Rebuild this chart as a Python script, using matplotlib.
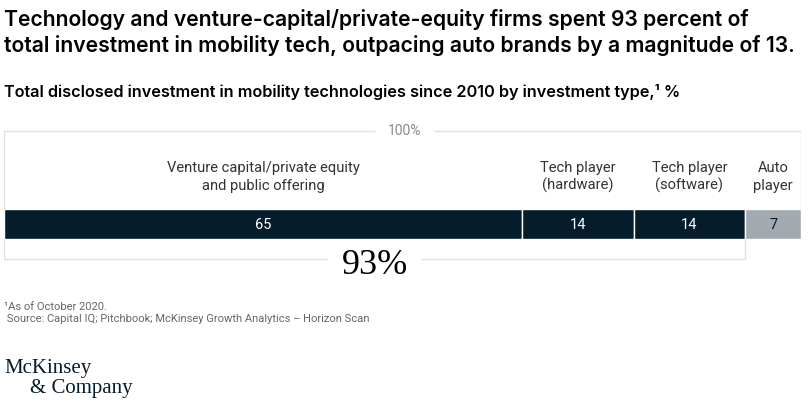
"""
Stacked 100% bar of mobility-tech investment by investment type.
"""

import matplotlib.pyplot as plt

CATEGORIES = [
    "Venture capital/private equity\nand public offering",
    "Tech player\n(hardware)",
    "Tech player\n(software)",
    "Auto\nplayer",
]
SHARES = [65, 14, 14, 7]
TOTAL_LABEL = "100%"
TECH_LABEL = "93%"

NAVY = "#051c2c"
GRAY = "#a2aab0"
FRAME = "#e0e0e0"
COLORS = [NAVY, NAVY, NAVY, GRAY]
TEXT_COLORS = ["white", "white", "white", NAVY]

TITLE = ("Technology and venture-capital/private-equity firms spent 93 percent of\n"
         "total investment in mobility tech, outpacing auto brands by a magnitude of 13.")
SUBTITLE = "Total disclosed investment in mobility technologies since 2010 by investment type,\u00b9 %"
FOOTNOTE = "\u00b9As of October 2020.\n Source: Capital IQ; Pitchbook; McKinsey Growth Analytics \u2013 Horizon Scan"

W, H = 808, 408
LABEL_FONT = dict(family="Roboto", weight="normal")


def main() -> None:
    fig = plt.figure(figsize=(W / 100, H / 100), dpi=100)
    # axes spans the bar horizontally, whole figure vertically (pixel rows)
    ax = fig.add_axes([4 / W, 0, (801 - 4) / W, 1])
    ax.set_xlim(0, sum(SHARES))
    ax.set_ylim(H, 0)
    ax.axis("off")

    bar_y, bar_h = 224, 30
    lefts = [sum(SHARES[:i]) for i in range(len(SHARES))]
    ax.barh(bar_y, SHARES, left=lefts, height=bar_h, color=COLORS,
            edgecolor="white", linewidth=1)
    for left, val, cat, tc in zip(lefts, SHARES, CATEGORIES, TEXT_COLORS):
        mid = left + val / 2
        ax.text(mid, bar_y + 1, str(val), ha="center", va="center",
                color=tc, fontsize=10.5, **LABEL_FONT)
        ax.text(mid, 177, cat, ha="center", va="center", color="#333333",
                fontsize=10.6, linespacing=1.3, **LABEL_FONT)

    # 100% bracket above
    total = sum(SHARES)
    top = 131
    ax.plot([0, 0, 46.5], [bar_y - bar_h / 2, top, top], color=FRAME, lw=1, solid_capstyle="butt")
    ax.plot([54, total, total], [top, top, bar_y - bar_h / 2], color=FRAME, lw=1, solid_capstyle="butt")
    ax.text(50.25, top, TOTAL_LABEL, ha="center", va="center", color="#8a8a8a",
            fontsize=10, **LABEL_FONT)

    # 93% bracket below
    tech = sum(SHARES[:3])
    bot = 259
    ax.plot([0, 0, 40.5], [bar_y + bar_h / 2, bot, bot], color=FRAME, lw=1)
    ax.plot([52.5, tech, tech], [bot, bot, bar_y + bar_h / 2], color=FRAME, lw=1)
    ax.text(46.5, 265, TECH_LABEL, ha="center", va="center", color="black",
            fontsize=26, family="Liberation Serif")

    fig.text(4 / W, 1 - 9 / H, TITLE, ha="left", va="top", fontsize=15.2,
             family="Inter", weight="semibold", color="black", linespacing=1.3)
    fig.text(4 / W, 1 - 92 / H, SUBTITLE, ha="left", va="center", fontsize=11.7,
             family="Inter", weight="semibold", color="black")
    fig.text(4 / W, 1 - 313 / H, FOOTNOTE, ha="left", va="center", fontsize=8.0,
             family="Roboto", color="#666666", linespacing=1.35)
    fig.text(4 / W, 1 - 373 / H, "McKinsey", ha="left", va="baseline",
             fontsize=15, family="Liberation Serif", color=NAVY)
    fig.text(30 / W, 1 - 393 / H, "& Company", ha="left", va="baseline",
             fontsize=15, family="Liberation Serif", color=NAVY)

    fig.savefig("out.png", dpi=100)


if __name__ == "__main__":
    main()
